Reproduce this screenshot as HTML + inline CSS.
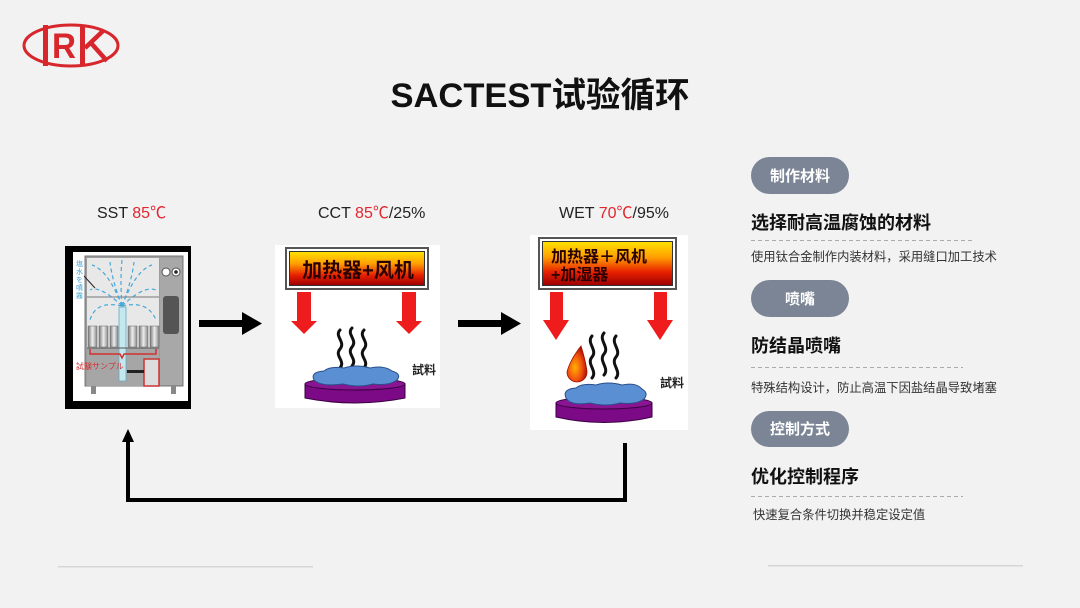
<!DOCTYPE html>
<html><head><meta charset="utf-8">
<style>
html,body{margin:0;padding:0;background:#f2f2f2;}
body{width:1080px;height:608px;overflow:hidden;}
svg{display:block;}
text{font-family:"Liberation Sans","Noto Sans CJK SC",sans-serif;}
</style></head>
<body>
<svg width="1080" height="608" viewBox="0 0 1080 608" xmlns="http://www.w3.org/2000/svg">
<defs>
<linearGradient id="heat" x1="0" y1="0" x2="0" y2="1">
<stop offset="0" stop-color="#ffe000"/>
<stop offset="0.35" stop-color="#ffa000"/>
<stop offset="0.7" stop-color="#e82000"/>
<stop offset="1" stop-color="#a00000"/>
</linearGradient>
<linearGradient id="tube" x1="0" y1="0" x2="1" y2="0">
<stop offset="0" stop-color="#777"/>
<stop offset="0.5" stop-color="#eee"/>
<stop offset="1" stop-color="#888"/>
</linearGradient>
<radialGradient id="drop" cx="0.4" cy="0.6" r="0.6">
<stop offset="0" stop-color="#ffb000"/>
<stop offset="0.6" stop-color="#f05010"/>
<stop offset="1" stop-color="#b01000"/>
</radialGradient>
</defs>

<rect width="1080" height="608" fill="#f2f2f2"/>

<!-- Logo -->
<ellipse cx="71" cy="45.5" rx="47" ry="20.5" fill="none" stroke="#d8262d" stroke-width="3"/>
<rect x="43" y="25" width="5" height="41" fill="#d8262d"/>
<text x="52" y="58" font-size="35" font-weight="bold" fill="#d8262d" textLength="24" lengthAdjust="spacingAndGlyphs">R</text>
<rect x="80" y="25" width="5" height="41" fill="#d8262d"/>
<path d="M85 48 L104 30 M91 43 L107 61" stroke="#d8262d" stroke-width="4.5" fill="none"/>

<!-- Title -->
<text x="540" y="107" font-size="34.5" font-weight="bold" fill="#111" text-anchor="middle">SACTEST试验循环</text>

<!-- Labels -->
<text x="97" y="218" font-size="16" fill="#222">SST <tspan fill="#e0262f">85℃</tspan></text>
<text x="318" y="218" font-size="16" fill="#222">CCT <tspan fill="#e0262f">85℃</tspan>/25%</text>
<text x="559" y="218" font-size="16" fill="#222">WET <tspan fill="#e0262f">70℃</tspan>/95%</text>

<!-- SST panel -->
<rect x="65" y="246" width="126" height="163" fill="#000"/>
<rect x="73" y="252" width="115" height="149" fill="#fff"/>
<rect x="85" y="256" width="98" height="130" fill="#9c9c9c" stroke="#777" stroke-width="1"/>
<rect x="87" y="258" width="72" height="90" fill="#e8e8e8"/>
<rect x="87" y="348" width="72" height="38" fill="#a6a6a6"/>
<rect x="160" y="258" width="22" height="127" fill="#a8a8a8"/>
<circle cx="166" cy="272" r="4" fill="#fff" stroke="#555"/>
<circle cx="176" cy="272" r="4" fill="#fff" stroke="#555"/>
<circle cx="176" cy="272" r="1.8" fill="#222"/>
<rect x="163" y="296" width="16" height="38" rx="3" fill="#555"/>
<line x1="87" y1="297" x2="159" y2="297" stroke="#777" stroke-width="1"/>
<g fill="none" stroke="#4aa8d8" stroke-width="1.2" stroke-dasharray="4 3">
<path d="M122 306 Q108 270 92 265"/>
<path d="M122 306 Q100 285 90 290"/>
<path d="M122 306 Q112 280 110 262"/>
<path d="M122 306 Q96 300 90 320"/>
<path d="M122 306 Q136 270 152 265"/>
<path d="M122 306 Q144 285 156 290"/>
<path d="M122 306 Q132 280 134 262"/>
<path d="M122 306 Q148 300 156 320"/>
<path d="M122 306 Q120 280 122 260"/>
</g>
<rect x="119" y="307" width="7" height="74" fill="#c4e8f0" stroke="#6ab" stroke-width="0.8"/>
<g fill="url(#tube)" stroke="#666" stroke-width="0.5">
<rect x="88" y="326" width="9" height="21"/>
<rect x="99" y="326" width="9" height="21"/>
<rect x="110" y="326" width="8" height="21"/>
<rect x="128" y="326" width="9" height="21"/>
<rect x="139" y="326" width="9" height="21"/>
<rect x="150" y="326" width="9" height="21"/>
</g>
<line x1="87" y1="348" x2="159" y2="348" stroke="#555" stroke-width="1"/>
<path d="M90 349 L90 354 L120 354 L122 358 L124 354 L156 354 L156 349" fill="none" stroke="#d43030" stroke-width="1.5"/>
<rect x="144" y="359" width="15" height="27" fill="#ddd" stroke="#c33" stroke-width="1.5"/>
<rect x="127" y="370" width="17" height="3" fill="#222"/>
<rect x="91" y="386" width="5" height="8" fill="#888"/>
<rect x="171" y="386" width="5" height="8" fill="#888"/>
<text x="76" y="369" font-size="8" fill="#d43030">試験サンプル</text>
<g font-size="7" fill="#3aa0d0">
<text x="76" y="266">塩</text><text x="76" y="274">水</text><text x="76" y="282">を</text><text x="76" y="290">噴</text><text x="76" y="298">霧</text>
</g>
<line x1="84" y1="276" x2="95" y2="288" stroke="#222" stroke-width="1"/>

<!-- black arrows -->
<rect x="199" y="320" width="44" height="7" fill="#000"/>
<polygon points="242,312 262,323.5 242,335" fill="#000"/>
<rect x="458" y="320" width="44" height="7" fill="#000"/>
<polygon points="501,312 521,323.5 501,335" fill="#000"/>

<!-- CCT panel -->
<rect x="275" y="245" width="165" height="163" fill="#fff"/>
<rect x="285" y="247" width="144" height="43" fill="#555"/>
<rect x="287" y="249" width="140" height="39" fill="#fff"/>
<rect x="289" y="251" width="136" height="35" fill="#333"/>
<rect x="290" y="252" width="134" height="33" fill="url(#heat)"/>
<text x="358" y="277" font-size="20" font-weight="bold" fill="#2a0000" text-anchor="middle">加热器+风机</text>
<g fill="#ee1c1c">
<rect x="297" y="292" width="14" height="30"/>
<polygon points="291,321 317,321 304,334"/>
<rect x="402" y="292" width="14" height="30"/>
<polygon points="396,321 422,321 409,334"/>
</g>
<g fill="none" stroke="#111" stroke-width="3" stroke-linecap="round">
<path d="M340 330 c-6 6 6 12 0 19 s6 12 0 19"/>
<path d="M352 328 c-6 6 6 12 0 19 s6 12 0 19"/>
<path d="M364 330 c-6 6 6 12 0 19 s6 12 0 19"/>
</g>
<path d="M305 384 L305 398 Q355 408 405 398 L405 384 Z" fill="#7c0a86" stroke="#3a0040"/>
<ellipse cx="355" cy="384" rx="50" ry="6" fill="#8a1592" stroke="#3a0040"/>
<path d="M314 380 q-4 -8 10 -9 q6 -5 20 -3 q12 -4 26 0 q14 -3 22 3 q10 3 5 9 q-8 6 -24 4 q-14 4 -30 0 q-22 3 -29 -4 Z" fill="#5a8fd4" stroke="#2a4f8a"/>
<text x="412" y="374" font-size="12" font-weight="bold" fill="#222">試料</text>

<!-- WET panel -->
<rect x="530" y="235" width="158" height="195" fill="#fff"/>
<rect x="538" y="237" width="139" height="53" fill="#555"/>
<rect x="540" y="239" width="135" height="49" fill="#fff"/>
<rect x="542" y="241" width="131" height="45" fill="#333"/>
<rect x="543" y="242" width="129" height="43" fill="url(#heat)"/>
<text x="551" y="262" font-size="16" font-weight="bold" fill="#2a0000">加热器＋风机</text>
<text x="551" y="280" font-size="16" font-weight="bold" fill="#2a0000">+加湿器</text>
<g fill="#ee1c1c">
<rect x="550" y="292" width="13" height="29"/>
<polygon points="543,320 569,320 556,340"/>
<rect x="654" y="292" width="13" height="29"/>
<polygon points="647,320 673,320 660,340"/>
</g>
<g fill="none" stroke="#111" stroke-width="3" stroke-linecap="round">
<path d="M592 336 c-6 7 6 14 0 21 s6 14 0 21"/>
<path d="M604 333 c-6 7 6 14 0 21 s6 14 0 21"/>
<path d="M616 336 c-6 7 6 14 0 21 s6 14 0 21"/>
</g>
<path d="M581 346 Q586 362 587 372 A10 10 0 1 1 567 372 Q570 360 581 346 Z" fill="url(#drop)" stroke="#a01000" stroke-width="0.8"/>
<path d="M556 403 L556 417 Q604 428 652 417 L652 403 Z" fill="#7c0a86" stroke="#3a0040"/>
<ellipse cx="604" cy="403" rx="48" ry="6" fill="#8a1592" stroke="#3a0040"/>
<path d="M566 398 q-4 -9 10 -10 q6 -5 20 -3 q12 -4 26 0 q14 -3 20 4 q7 4 2 10 q-8 6 -24 4 q-14 4 -30 0 q-20 3 -24 -5 Z" fill="#5a8fd4" stroke="#2a4f8a"/>
<text x="660" y="387" font-size="12" font-weight="bold" fill="#222">試料</text>

<!-- feedback connector -->
<rect x="623" y="443" width="4" height="59" fill="#000"/>
<rect x="126" y="498" width="501" height="4" fill="#000"/>
<rect x="126" y="440" width="4" height="62" fill="#000"/>
<polygon points="122,442 134,442 128,429" fill="#000"/>

<!-- bottom lines -->
<rect x="58" y="566" width="255" height="1.5" fill="#d6d6d6"/>
<rect x="768" y="565" width="255" height="1.5" fill="#d6d6d6"/>

<!-- Right side -->
<rect x="751" y="157" width="98" height="37" rx="18.5" fill="#7b8595"/>
<text x="800" y="181" font-size="15" font-weight="bold" fill="#fff" text-anchor="middle">制作材料</text>
<text x="751" y="229" font-size="18" font-weight="bold" fill="#111">选择耐高温腐蚀的材料</text>
<line x1="751" y1="240.5" x2="972" y2="240.5" stroke="#aaa" stroke-width="1" stroke-dasharray="4 3"/>
<text x="751" y="261" font-size="12.3" fill="#333">使用钛合金制作内装材料，采用缝口加工技术</text>

<rect x="751" y="280" width="98" height="37" rx="18.5" fill="#7b8595"/>
<text x="800" y="304" font-size="15" font-weight="bold" fill="#fff" text-anchor="middle">喷嘴</text>
<text x="751" y="352" font-size="18" font-weight="bold" fill="#111">防结晶喷嘴</text>
<line x1="751" y1="367.5" x2="963" y2="367.5" stroke="#aaa" stroke-width="1" stroke-dasharray="4 3"/>
<text x="751" y="392" font-size="12.3" fill="#333">特殊结构设计，防止高温下因盐结晶导致堵塞</text>

<rect x="751" y="411" width="98" height="36" rx="18" fill="#7b8595"/>
<text x="800" y="434" font-size="15" font-weight="bold" fill="#fff" text-anchor="middle">控制方式</text>
<text x="751" y="483" font-size="18" font-weight="bold" fill="#111">优化控制程序</text>
<line x1="751" y1="496.5" x2="963" y2="496.5" stroke="#aaa" stroke-width="1" stroke-dasharray="4 3"/>
<text x="753" y="519" font-size="12.3" fill="#333">快速复合条件切换并稳定设定值</text>
</svg>
</body></html>
